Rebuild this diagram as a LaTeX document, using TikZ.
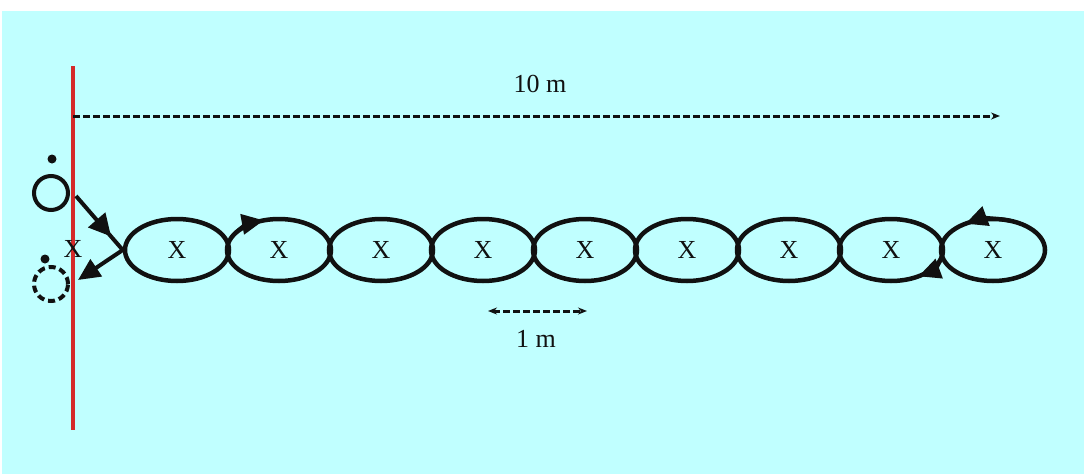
\documentclass[tikz,border=0pt]{standalone}
\usepackage{fontspec}
\setmainfont{Liberation Serif}
\usetikzlibrary{arrows.meta,shapes.geometric,decorations.markings,calc}
\definecolor{poolcyan}{HTML}{C0FFFF}
\definecolor{lanered}{HTML}{D42A2A}
\definecolor{inkblack}{HTML}{111111}
\tikzset{
  loopbox/.style={ellipse, draw=inkblack, line width=4.5pt, minimum width=104pt, minimum height=62pt, inner sep=0pt, font=\fontsize{26}{30}\selectfont, text=inkblack},
  runner/.style={circle, draw=inkblack, line width=4pt, minimum size=34pt, inner sep=0pt},
  runnerghost/.style={runner, dash pattern=on 7pt off 4pt},
  headdot/.style={circle, fill=inkblack, minimum size=9pt, inner sep=0pt},
  runline/.style={draw=inkblack, line width=4pt},
  runtip/.style={runline, -{Triangle[length=22pt,width=20pt]}},
  midtip/.style={runline, postaction={decorate}, decoration={markings, mark=at position #1 with {\arrow{Triangle[length=22pt,width=22pt]}}}},
  measure/.style={draw=inkblack, line width=3pt, dash pattern=on 7pt off 3pt},
  mlabel/.style={font=\fontsize{26}{30}\selectfont, text=inkblack},
}
\begin{document}
\begin{tikzpicture}[x=1pt, y=-1pt]
  % background
  \fill[white] (0,0) rectangle (1084,474);
  \fill[poolcyan] (2,11) rectangle (1084,474);
  \useasboundingbox (0,0) rectangle (1084,474);
  % start line
  \coordinate (linetop) at (73,66);
  \coordinate (linebot) at (73,430);
  \draw[lanered, line width=4pt] (linetop) -- (linebot);
  \node[mlabel] (startx) at (73,249) {X};
  % distances
  \coordinate (tenfrom) at (73,116);
  \coordinate (tento) at (1000,116);
  \draw[measure, -{Stealth[length=9pt,width=7pt]}] (tenfrom) -- (tento);
  \node[mlabel] (tenlab) at (540,84) {10 m};
  \coordinate (onefrom) at (488,311);
  \coordinate (oneto) at (587,311);
  \draw[measure, {Stealth[length=9pt,width=7pt]}-{Stealth[length=9pt,width=7pt]}] (onefrom) -- (oneto);
  \node[mlabel] (onelab) at (536,339) {1 m};
  % weave loops
  \foreach \i in {1,...,9}
    \node[loopbox] (e\i) at ({177+102*(\i-1)},250) {X};
  % runner out and back
  \node[runner] (pa) at (51,193) {};
  \node[headdot] (pahead) at (52,159) {};
  \node[runnerghost] (pb) at (51,284) {};
  \node[headdot] (pbhead) at (45,259) {};
  \coordinate (outstart) at (76,196);
  \coordinate (backend) at (78,280);
  \draw[midtip=0.75] (outstart) -- (e1.west);
  \draw[runtip] (e1.west) -- (backend);
  % direction marks
  \draw[runtip] ($(e2)+(205:52 and 31)$) arc[start angle=205, end angle=253, x radius=52, y radius=31];
  \draw[runtip] ($(e9)+(290:52 and 31)$) arc[start angle=290, end angle=238, x radius=52, y radius=31];
  \draw[runtip] ($(e8)+(5:52 and 31)$) arc[start angle=5, end angle=58, x radius=52, y radius=31];
\end{tikzpicture}
\end{document}
